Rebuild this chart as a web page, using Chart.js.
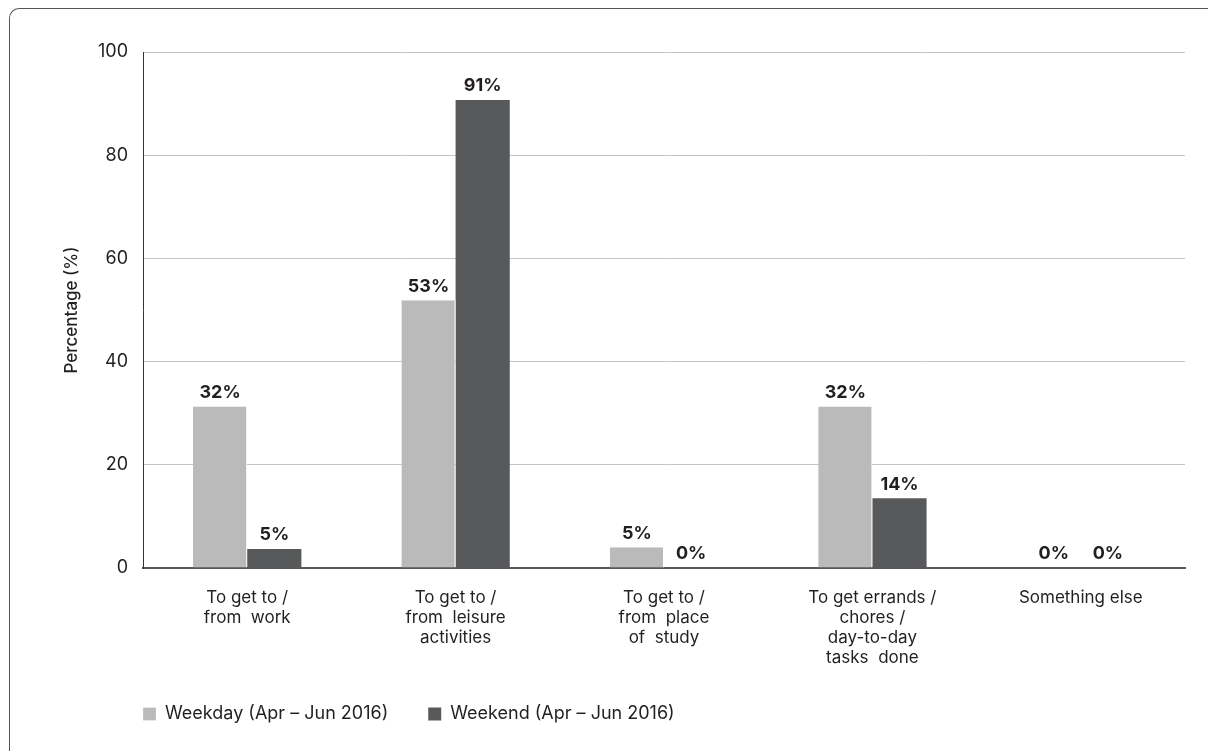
<!DOCTYPE html>
<html>
<head>
<meta charset="utf-8">
<script src="https://cdn.jsdelivr.net/npm/chart.js@4.4.1/dist/chart.umd.min.js"></script>
<style>
  html, body { margin: 0; padding: 0; background: #fff; overflow: hidden; }
  #wrap { position: relative; width: 1208px; height: 751px; }
  #frame { position: absolute; left: 9px; top: 8px; width: 1260px; height: 800px;
           border-left: 1px solid #555; border-top: 1px solid #555; border-radius: 10px; }
  canvas { position: absolute; left: 0; top: 0; }
</style>
</head>
<body>
<div id="wrap">
  <div id="frame"></div>
  <canvas id="chart" width="1208" height="751"></canvas>
</div>
<script>
// categories (multi-line tick labels)
const categories = [
  ["To get to /", "from  work"],
  ["To get to /", "from  leisure", "activities"],
  ["To get to /", "from  place", "of  study"],
  ["To get errands /", "chores /", "day-to-day", "tasks  done"],
  ["Something else"]
];
const seriesNames = ["Weekday (Apr \u2013 Jun 2016)", "Weekend (Apr \u2013 Jun 2016)"];
// bar heights
const weekdayValues = [31.3, 51.9, 4.0, 31.3, 0];
const weekendValues = [3.7, 90.7, 0, 13.5, 0];
// printed value labels
const weekdayLabels = ["32%", "53%", "5%", "32%", "0%"];
const weekendLabels = ["5%", "91%", "0%", "14%", "0%"];
const yTicks = [0, 20, 40, 60, 80, 100];

Chart.defaults.font.family = "Inter, 'Noto Sans', sans-serif";
Chart.defaults.color = "#231f20";

// draws the % labels above each bar
const valueLabels = {
  id: "valueLabels",
  afterDatasetsDraw(chart) {
    const ctx = chart.ctx;
    const all = [weekdayLabels, weekendLabels];
    ctx.save();
    ctx.font = "bold 18px Inter, 'Noto Sans', sans-serif";
    ctx.fillStyle = "#231f20";
    ctx.textAlign = "center";
    ctx.textBaseline = "bottom";
    chart.data.datasets.forEach((ds, i) => {
      chart.getDatasetMeta(i).data.forEach((bar, j) => {
        ctx.fillText(all[i][j], bar.x, bar.y - 5);
      });
    });
    ctx.restore();
  }
};

// pull the legend back to the chart area's left edge
const legendShift = {
  id: "legendShift",
  afterLayout(chart) {
    const l = chart.legend;
    const p = l.options.labels.padding;
    l.left -= p;
    l.right -= p;
  }
};

const ctx = document.getElementById("chart").getContext("2d");
const chart = new Chart(ctx, {
  type: "bar",
  data: {
    labels: categories,
    datasets: [
      { label: seriesNames[0], data: weekdayValues, backgroundColor: "#bababa",
        borderColor: "#fff", borderWidth: { right: 1 }, borderSkipped: "start",
        categoryPercentage: 0.52, barPercentage: 1.0 },
      { label: seriesNames[1], data: weekendValues, backgroundColor: "#58595b",
        categoryPercentage: 0.52, barPercentage: 1.0 }
    ]
  },
  plugins: [valueLabels, legendShift],
  options: {
    responsive: false,
    animation: false,
    layout: { padding: { left: 50, right: 23, top: 52, bottom: 18 } },
    plugins: {
      tooltip: { enabled: false },
      legend: {
        position: "bottom",
        align: "start",
        fullSize: false,
        labels: {
          boxWidth: 13,
          boxHeight: 13,
          padding: 40,
          color: "#231f20",
          font: { size: 18 }
        }
      }
    },
    scales: {
      x: {
        grid: { display: false, drawTicks: false },
        border: { display: true, color: "#58595b", width: 2 },
        ticks: { padding: 20, maxRotation: 0, autoSkip: false, color: "#231f20", font: { size: 17, lineHeight: 1.18 } },
        afterFit(scale) { scale.height = 97; }
      },
      y: {
        min: 0,
        max: 100,
        afterBuildTicks(scale) { scale.ticks = yTicks.map(v => ({ value: v })); },
        grid: { color: "#c4c4c4", lineWidth: 1, drawTicks: false },
        border: { display: true, color: "#333", width: 1 },
        ticks: { padding: 15, color: "#231f20", font: { size: 18 } },
        title: { display: true, text: "Percentage (%)", color: "#231f20",
                 font: { size: 17, weight: "500" }, padding: { top: 12, bottom: 0 } },
        afterFit(scale) { scale.width = 93; }
      }
    }
  }
});
</script>
</body>
</html>
